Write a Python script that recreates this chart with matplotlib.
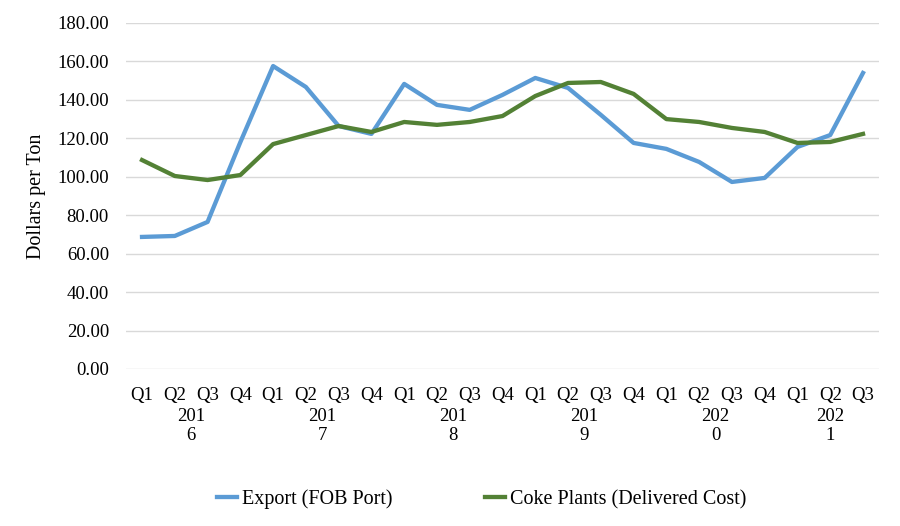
import matplotlib
matplotlib.use("Agg")
import matplotlib.pyplot as plt
import numpy as np

plt.rcParams['font.family'] = ['Liberation Serif', 'DejaVu Serif']

quarters = ["Q1", "Q2", "Q3", "Q4"] * 5 + ["Q1", "Q2", "Q3"]
years = ["201\n6", "201\n7", "201\n8", "201\n9", "202\n0", "202\n1"]
year_sizes = [4, 4, 4, 4, 4, 3]

export_fob = [68.7, 69.2, 76.5, 118.0, 157.6, 146.7, 126.4, 122.3,
              148.3, 137.4, 134.8, 142.6, 151.4, 146.2, 132.2, 117.6,
              114.5, 107.7, 97.3, 99.4, 115.5, 121.7, 154.0]
coke_plants = [108.7, 100.4, 98.3, 100.9, 117.0, 121.7, 126.4, 123.3,
               128.5, 127.0, 128.5, 131.6, 142.0, 148.8, 149.3, 143.1,
               130.0, 128.5, 125.4, 123.3, 117.6, 118.1, 122.3]

x = np.arange(len(quarters))

fig = plt.figure(figsize=(9, 5.26), dpi=100)
ax = fig.add_axes([0.1396, 0.2985, 0.8375, 0.6578])

ax.plot(x, export_fob, color="#5B9BD5", lw=3.1, label="Export (FOB Port)")
ax.plot(x, coke_plants, color="#538135", lw=3.1, label="Coke Plants (Delivered Cost)")

ax.set_xlim(-0.5, len(quarters) - 0.5)
ax.set_ylim(0, 180)
ax.set_yticks(np.arange(0, 181, 20))
ax.set_yticklabels([f"{v:.2f}" for v in np.arange(0, 181, 20)], fontsize=13.5)
ax.set_xticks(x)
ax.set_xticklabels(quarters, fontsize=13.5)
ax.tick_params(axis="both", length=0)
ax.tick_params(axis="x", pad=13)
ax.tick_params(axis="y", pad=12)

ax.grid(axis="y", color="#D9D9D9", lw=1)
ax.set_axisbelow(True)
for s in ax.spines.values():
    s.set_visible(False)

# year labels centred under each group of quarters
start = 0
for yr, n in zip(years, year_sizes):
    center = start + (n - 1) / 2
    ax.text(center, -0.165, yr, transform=ax.get_xaxis_transform(),
            ha="center", va="center", fontsize=13.5, linespacing=1.12)
    start += n

ax.set_ylabel("Dollars per Ton", fontsize=14.5, labelpad=8)

fig.legend(loc="center", bbox_to_anchor=(0.535, 0.051), ncol=2, frameon=False,
           fontsize=14.5, handlelength=1.0, handletextpad=0.25, columnspacing=4.6)

fig.savefig("out.png", dpi=100)
